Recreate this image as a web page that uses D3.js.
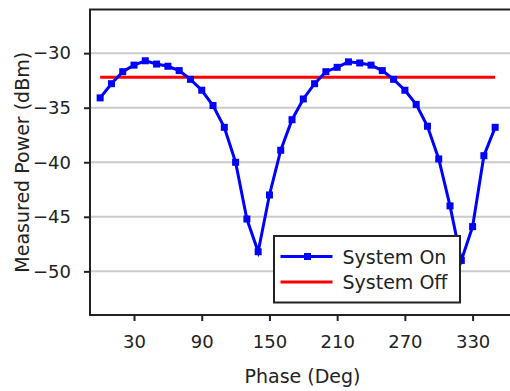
<!DOCTYPE html>
<html>
<head>
<meta charset="utf-8">
<script src="https://cdn.jsdelivr.net/npm/d3@7"></script>
<style>
  body { margin: 0; background: #fff; }
  svg { display: block; font-family: "DejaVu Sans", sans-serif; }
</style>
</head>
<body>
<script>
// phase in degrees, measured power in dBm
const phases = [0, 10, 20, 30, 40, 50, 60, 70, 80, 90, 100, 110, 120, 130, 140, 150, 160, 170,
  180, 190, 200, 210, 220, 230, 240, 250, 260, 270, 280, 290, 300, 310, 320, 330, 340, 350];
const systemOn = [-34.1, -32.8, -31.7, -31.1, -30.7, -31.0, -31.2, -31.6, -32.4, -33.4, -34.8, -36.8,
  -40.0, -45.2, -48.2, -43.0, -38.9, -36.1, -34.2, -32.8, -31.7, -31.3, -30.8, -30.9,
  -31.1, -31.6, -32.4, -33.4, -34.7, -36.7, -39.7, -44.0, -49.0, -45.9, -39.4, -36.8];
const systemOff = -32.2;
const xTicks = [30, 90, 150, 210, 270, 330];
const yTicks = [-30, -35, -40, -45, -50];
const legendLabels = ["System On", "System Off"];

const width = 510;
const height = 391;
const margin = { top: 9.5, right: -10, bottom: 76, left: 90 };

const svg = d3.select("body").append("svg")
  .attr("width", width)
  .attr("height", height);

const x = d3.scaleLinear()
  .domain([-9, 372])
  .range([margin.left, width - margin.right]);

const y = d3.scaleLinear()
  .domain([-54, -26])
  .range([height - margin.bottom, margin.top]);

// gridlines
svg.append("g")
  .selectAll("line")
  .data(yTicks)
  .join("line")
  .attr("x1", margin.left)
  .attr("x2", width)
  .attr("y1", (d) => y(d))
  .attr("y2", (d) => y(d))
  .attr("stroke", "#cbcbcb")
  .attr("stroke-width", 2);

// system off reference line
svg.append("line")
  .attr("x1", x(phases[0]))
  .attr("x2", x(phases[phases.length - 1]))
  .attr("y1", y(systemOff))
  .attr("y2", y(systemOff))
  .attr("stroke", "#ff0000")
  .attr("stroke-width", 3);

// system on curve
const onData = phases.map((p, i) => ({ p, v: systemOn[i] }));
svg.append("path")
  .datum(onData)
  .attr("fill", "none")
  .attr("stroke", "#0000ff")
  .attr("stroke-width", 3)
  .attr("d", d3.line().x((d) => x(d.p)).y((d) => y(d.v)));

svg.append("g")
  .selectAll("rect")
  .data(onData)
  .join("rect")
  .attr("x", (d) => x(d.p) - 3.5)
  .attr("y", (d) => y(d.v) - 3.5)
  .attr("width", 7)
  .attr("height", 7)
  .attr("fill", "#0000ff");

// axes
const xAxis = d3.axisBottom(x).tickValues(xTicks).tickSize(6).tickPadding(14).tickSizeOuter(0);
const yAxis = d3.axisLeft(y).tickValues(yTicks).tickSize(6).tickPadding(13).tickSizeOuter(0);

const gx = svg.append("g")
  .attr("transform", `translate(0,${height - margin.bottom})`)
  .call(xAxis);
const gy = svg.append("g")
  .attr("transform", `translate(${margin.left},0)`)
  .call(yAxis);

[gx, gy].forEach((g) => {
  g.select(".domain").remove();
  g.selectAll(".tick line").attr("stroke", "#222").attr("stroke-width", 2);
  g.selectAll(".tick text")
    .attr("fill", "#222")
    .style("font-size", "18px")
    .style("font-family", "DejaVu Sans, sans-serif");
});

// frame: left, top, bottom
svg.append("path")
  .attr("d", `M${width},${margin.top}H${margin.left}V${height - margin.bottom}H${width}`)
  .attr("fill", "none")
  .attr("stroke", "#222")
  .attr("stroke-width", 2);

// axis titles
svg.append("text")
  .attr("x", 302.5)
  .attr("y", 383)
  .attr("text-anchor", "middle")
  .attr("fill", "#222")
  .style("font-size", "19px")
  .text("Phase (Deg)");

svg.append("text")
  .attr("transform", `translate(29,${(margin.top + height - margin.bottom) / 2}) rotate(-90)`)
  .attr("text-anchor", "middle")
  .attr("fill", "#222")
  .style("font-size", "19px")
  .text("Measured Power (dBm)");

// legend
const legend = svg.append("g").attr("transform", "translate(274,236)");
legend.append("rect")
  .attr("width", 186)
  .attr("height", 66.5)
  .attr("fill", "#fff")
  .attr("stroke", "#222")
  .attr("stroke-width", 2);

const items = legend.selectAll("g.item")
  .data(legendLabels)
  .join("g")
  .attr("class", "item")
  .attr("transform", (d, i) => `translate(0,${20.5 + i * 25.5})`);

items.append("line")
  .attr("x1", 6.5)
  .attr("x2", 58.5)
  .attr("stroke", (d, i) => (i === 0 ? "#0000ff" : "#ff0000"))
  .attr("stroke-width", 3);

items.filter((d, i) => i === 0)
  .append("rect")
  .attr("x", 30)
  .attr("y", -3.5)
  .attr("width", 7)
  .attr("height", 7)
  .attr("fill", "#0000ff");

items.append("text")
  .attr("x", 68.5)
  .attr("y", 7)
  .attr("fill", "#222")
  .style("font-size", "19px")
  .text((d) => d);
</script>
</body>
</html>
